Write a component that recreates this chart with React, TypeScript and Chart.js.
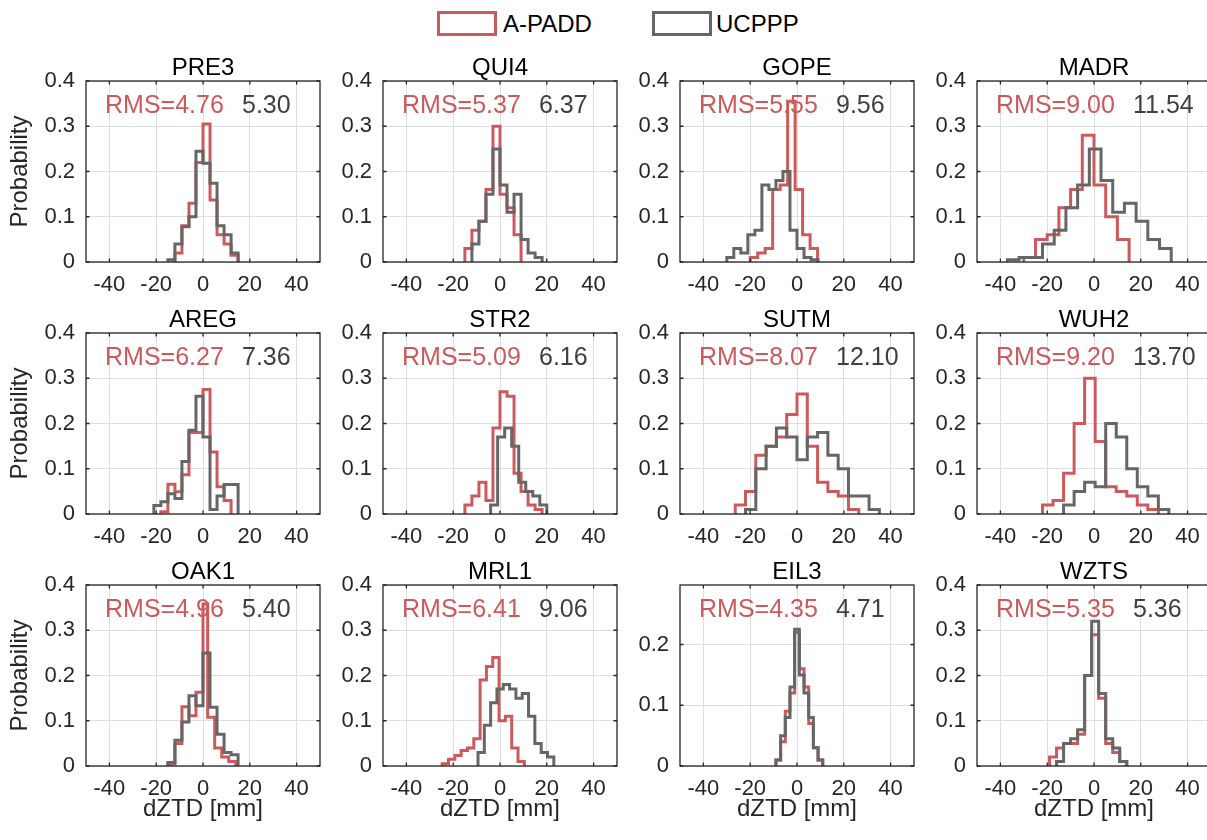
import React, { useEffect, useRef } from 'react';
import { Chart, registerables } from 'chart.js';

Chart.register(...registerables);

const FONT = "'Liberation Sans', Arial, Helvetica, sans-serif";
const RED = 'rgb(204, 90, 92)';
const GRAY = 'rgb(102, 102, 102)';
const TEXT_GRAY = 'rgb(64, 64, 64)';
const AXIS = '#262626';
const GRID = '#dedede';

const STATIONS = ['PRE3', 'QUI4', 'GOPE', 'MADR', 'AREG', 'STR2', 'SUTM', 'WUH2', 'OAK1', 'MRL1', 'EIL3', 'WZTS'];
const RMS_APADD = ['4.76', '5.37', '5.55', '9.00', '6.27', '5.09', '8.07', '9.20', '4.96', '6.41', '4.35', '5.35'];
const RMS_UCPPP = ['5.30', '6.37', '9.56', '11.54', '7.36', '6.16', '12.10', '13.70', '5.40', '9.06', '4.71', '5.36'];
const Y_MAX = [0.4, 0.4, 0.4, 0.4, 0.4, 0.4, 0.4, 0.4, 0.4, 0.4, 0.298, 0.4];
const X_TICKS = [-40, -20, 0, 20, 40];
const Y_TICKS = [0, 0.1, 0.2, 0.3, 0.4];
const Y_TICKS_SHORT = [0, 0.1, 0.2];

// bin edges [mm] and probabilities, A-PADD (A) and UCPPP (U)
const PRE3_A_EDGES = [-12, -9, -6, -3, 0, 3, 6, 9, 12, 15];
const PRE3_A_PROB = [0.02, 0.08, 0.13, 0.22, 0.305, 0.137, 0.06, 0.04, 0.015];
const PRE3_U_EDGES = [-15, -12, -9, -6, -3, 0, 3, 6, 9, 12, 15];
const PRE3_U_PROB = [0.005, 0.04, 0.078, 0.1, 0.245, 0.218, 0.174, 0.08, 0.06, 0.02];

const QUI4_A_EDGES = [-15, -12, -9, -6, -3, 0, 3, 6, 9];
const QUI4_A_PROB = [0.03, 0.07, 0.09, 0.16, 0.3, 0.15, 0.12, 0.06];
const QUI4_U_EDGES = [-12, -9, -6, -3, 0, 3, 6, 9, 12, 15, 18];
const QUI4_U_PROB = [0.04, 0.09, 0.15, 0.25, 0.17, 0.11, 0.15, 0.05, 0.02, 0.01];

const GOPE_A_EDGES = [-20, -16.8, -13.6, -10.4, -7.2, -4, -0.8, 2.4, 5.6, 8.8];
const GOPE_A_PROB = [0.01, 0.02, 0.03, 0.16, 0.17, 0.355, 0.16, 0.06, 0.03];
const GOPE_U_EDGES = [-30, -27, -24, -21, -18, -15, -12, -9, -6, -3, 0, 3, 6, 9];
const GOPE_U_PROB = [0.01, 0.03, 0.02, 0.06, 0.07, 0.17, 0.16, 0.18, 0.2, 0.07, 0.03, 0.01, 0.005];

const MADR_A_EDGES = [-30, -25, -20, -15, -10, -5, 0, 5, 10, 15];
const MADR_A_PROB = [0.01, 0.05, 0.06, 0.12, 0.16, 0.28, 0.17, 0.1, 0.05];
const MADR_U_EDGES = [-37, -32, -27, -22, -17, -12, -7, -2, 3, 8, 13, 18, 23, 28, 33];
const MADR_U_PROB = [0.005, 0.01, 0.01, 0.04, 0.07, 0.12, 0.17, 0.25, 0.18, 0.11, 0.13, 0.09, 0.05, 0.03];

const AREG_A_EDGES = [-18, -15, -12, -9, -6, -3, 0, 3, 6, 9, 12];
const AREG_A_PROB = [0.005, 0.066, 0.049, 0.087, 0.18, 0.18, 0.275, 0.137, 0.06, 0.03];
const AREG_U_EDGES = [-21, -18, -15, -12, -9, -6, -3, 0, 3, 6, 9, 12, 15];
const AREG_U_PROB = [0.019, 0.027, 0.045, 0.034, 0.116, 0.185, 0.26, 0.17, 0.01, 0.04, 0.065, 0.065];

const STR2_A_EDGES = [-15, -12, -9, -6, -3, 0, 3, 6, 9, 12, 15, 18];
const STR2_A_PROB = [0.02, 0.04, 0.07, 0.03, 0.19, 0.27, 0.26, 0.09, 0.05, 0.02, 0.01];
const STR2_U_EDGES = [-4, -1, 2, 5, 8, 11, 14, 17, 20];
const STR2_U_PROB = [0.02, 0.17, 0.19, 0.15, 0.07, 0.05, 0.04, 0.02];

const SUTM_A_EDGES = [-26.4, -22, -17.6, -13.2, -8.8, -4.4, 0, 4.4, 8.8, 13.2, 17.6, 22, 26.4];
const SUTM_A_PROB = [0.02, 0.05, 0.13, 0.15, 0.17, 0.22, 0.265, 0.15, 0.07, 0.05, 0.04, 0.01];
const SUTM_U_EDGES = [-22, -17.6, -13.2, -8.8, -4.4, 0, 4.4, 8.8, 13.2, 17.6, 22, 26.4, 30.8, 35.2];
const SUTM_U_PROB = [0.01, 0.1, 0.15, 0.19, 0.17, 0.12, 0.17, 0.18, 0.13, 0.1, 0.04, 0.04, 0.01];

const WUH2_A_EDGES = [-22, -17.5, -13, -8.5, -4, 0.5, 5, 9.5, 14, 18.5, 23, 27.5];
const WUH2_A_PROB = [0.02, 0.03, 0.09, 0.2, 0.3, 0.16, 0.06, 0.05, 0.04, 0.02, 0.01];
const WUH2_U_EDGES = [-13, -8.5, -4, 0.5, 5, 9.5, 14, 18.5, 23, 27.5, 32];
const WUH2_U_PROB = [0.02, 0.05, 0.07, 0.06, 0.2, 0.17, 0.1, 0.06, 0.04, 0.01];

const OAK1_A_EDGES = [-15, -12, -9, -6, -3, 0, 2, 5, 8, 11, 14];
const OAK1_A_PROB = [0.004, 0.05, 0.131, 0.111, 0.163, 0.358, 0.108, 0.04, 0.02, 0.01];
const OAK1_U_EDGES = [-15, -12, -9, -6, -3, 0, 3, 6, 9, 12, 15];
const OAK1_U_PROB = [0.008, 0.057, 0.097, 0.155, 0.133, 0.25, 0.13, 0.07, 0.03, 0.025];

const MRL1_A_EDGES = [-24.7, -22, -19.3, -16.6, -13.9, -11.2, -8.5, -5.8, -3.1, -0.4, 2.3, 5, 7.7, 10.4];
const MRL1_A_PROB = [0.005, 0.015, 0.023, 0.034, 0.04, 0.06, 0.19, 0.22, 0.24, 0.1, 0.11, 0.04, 0.01];
const MRL1_U_EDGES = [-9.4, -6.7, -4, -1.3, 1.4, 4.1, 6.8, 9.5, 12.2, 14.9, 17.6, 20.3, 23];
const MRL1_U_PROB = [0.03, 0.09, 0.14, 0.17, 0.18, 0.17, 0.15, 0.16, 0.11, 0.05, 0.03, 0.02];

const EIL3_A_EDGES = [-9, -7, -5, -3, -1, 1, 3, 5, 7, 9, 11];
const EIL3_A_PROB = [0.01, 0.04, 0.09, 0.12, 0.22, 0.16, 0.13, 0.07, 0.03, 0.01];
const EIL3_U_EDGES = [-9, -7, -5, -3, -1, 1, 3, 5, 7, 9, 11];
const EIL3_U_PROB = [0.01, 0.05, 0.08, 0.13, 0.225, 0.15, 0.12, 0.08, 0.03, 0.01];

const WZTS_A_EDGES = [-19, -16, -13, -10, -7, -4, -1, 2, 5, 8, 11, 14];
const WZTS_A_PROB = [0.02, 0.04, 0.05, 0.05, 0.07, 0.2, 0.29, 0.15, 0.05, 0.03, 0.01];
const WZTS_U_EDGES = [-16, -13, -10, -7, -4, -1, 2, 5, 8, 11, 14];
const WZTS_U_PROB = [0.01, 0.05, 0.06, 0.08, 0.2, 0.32, 0.16, 0.06, 0.04, 0.01];

const A_EDGES = [PRE3_A_EDGES, QUI4_A_EDGES, GOPE_A_EDGES, MADR_A_EDGES, AREG_A_EDGES, STR2_A_EDGES, SUTM_A_EDGES, WUH2_A_EDGES, OAK1_A_EDGES, MRL1_A_EDGES, EIL3_A_EDGES, WZTS_A_EDGES];
const A_PROB = [PRE3_A_PROB, QUI4_A_PROB, GOPE_A_PROB, MADR_A_PROB, AREG_A_PROB, STR2_A_PROB, SUTM_A_PROB, WUH2_A_PROB, OAK1_A_PROB, MRL1_A_PROB, EIL3_A_PROB, WZTS_A_PROB];
const U_EDGES = [PRE3_U_EDGES, QUI4_U_EDGES, GOPE_U_EDGES, MADR_U_EDGES, AREG_U_EDGES, STR2_U_EDGES, SUTM_U_EDGES, WUH2_U_EDGES, OAK1_U_EDGES, MRL1_U_EDGES, EIL3_U_EDGES, WZTS_U_EDGES];
const U_PROB = [PRE3_U_PROB, QUI4_U_PROB, GOPE_U_PROB, MADR_U_PROB, AREG_U_PROB, STR2_U_PROB, SUTM_U_PROB, WUH2_U_PROB, OAK1_U_PROB, MRL1_U_PROB, EIL3_U_PROB, WZTS_U_PROB];

// layout (pixels)
const COL_PITCH = 297;
const ROW_PITCH = 252;
const FIRST_LEFT = 86;
const FIRST_TOP = 81;
const AXES_W = 234;
const AXES_H = 181;
const PAD_TOP = 40;
const Y_AXIS_W = 86;
const X_AXIS_H = 60;
const CANVAS_W = Y_AXIS_W + AXES_W + 4;
const CANVAS_H = PAD_TOP + AXES_H + X_AXIS_H;

function stairs(edges: number[], probs: number[]) {
  const pts: { x: number; y: number }[] = [{ x: edges[0], y: 0 }];
  for (let i = 0; i < probs.length; i++) pts.push({ x: edges[i], y: probs[i] });
  pts.push({ x: edges[edges.length - 1], y: 0 });
  return pts;
}

function Subplot({ idx }: { idx: number }) {
  const ref = useRef<HTMLCanvasElement | null>(null);
  const col = idx % 4;
  const row = Math.floor(idx / 4);
  const axesLeft = FIRST_LEFT + COL_PITCH * col;
  const axesTop = FIRST_TOP + ROW_PITCH * row;

  useEffect(() => {
    if (!ref.current) return;
    const yTicks = Y_MAX[idx] < 0.3 ? Y_TICKS_SHORT : Y_TICKS;
    const decor = {
      id: 'decor' + idx,
      beforeDatasetsDraw(chart: any) {
        const { ctx, chartArea } = chart;
        ctx.save();
        ctx.textBaseline = 'alphabetic';
        ctx.fillStyle = '#000';
        ctx.font = `24px ${FONT}`;
        ctx.textAlign = 'center';
        ctx.fillText(STATIONS[idx], (chartArea.left + chartArea.right) / 2, chartArea.top - 6);
        ctx.font = `25px ${FONT}`;
        ctx.textAlign = 'left';
        ctx.fillStyle = RED;
        ctx.fillText('RMS=' + RMS_APADD[idx], chartArea.left + 19, chartArea.top + 32);
        ctx.fillStyle = TEXT_GRAY;
        ctx.fillText(RMS_UCPPP[idx], chartArea.left + 156, chartArea.top + 32);
        ctx.restore();
      },
      afterDatasetsDraw(chart: any) {
        const { ctx, chartArea, scales } = chart;
        const { left, right, top, bottom } = chartArea;
        ctx.save();
        ctx.strokeStyle = AXIS;
        ctx.lineWidth = 1.3;
        ctx.strokeRect(left, top, right - left, bottom - top);
        const tl = 3.5;
        ctx.beginPath();
        X_TICKS.forEach((v) => {
          const x = scales.x.getPixelForValue(v);
          ctx.moveTo(x, bottom);
          ctx.lineTo(x, bottom - tl);
          ctx.moveTo(x, top);
          ctx.lineTo(x, top + tl);
        });
        yTicks.forEach((v) => {
          const y = scales.y.getPixelForValue(v);
          ctx.moveTo(left, y);
          ctx.lineTo(left + tl, y);
          ctx.moveTo(right, y);
          ctx.lineTo(right - tl, y);
        });
        ctx.stroke();
        ctx.restore();
      },
    };

    const chart = new Chart(ref.current, {
      type: 'scatter',
      data: {
        datasets: [
          {
            label: 'A-PADD',
            data: stairs(A_EDGES[idx], A_PROB[idx]),
            borderColor: RED,
            backgroundColor: RED,
            borderWidth: 3,
            showLine: true,
            stepped: true,
            pointRadius: 0,
            fill: false,
            order: 2,
            borderJoinStyle: 'miter',
          } as any,
          {
            label: 'UCPPP',
            data: stairs(U_EDGES[idx], U_PROB[idx]),
            borderColor: GRAY,
            backgroundColor: GRAY,
            borderWidth: 3,
            showLine: true,
            stepped: true,
            pointRadius: 0,
            fill: false,
            order: 1,
            borderJoinStyle: 'miter',
          } as any,
        ],
      },
      options: {
        responsive: false,
        animation: false,
        events: [],
        layout: { padding: { top: PAD_TOP, left: 0, right: CANVAS_W - Y_AXIS_W - AXES_W, bottom: 0 } },
        plugins: {
          legend: { display: false },
          tooltip: { enabled: false },
          title: { display: false },
        },
        scales: {
          x: {
            type: 'linear',
            min: -50,
            max: 50,
            afterBuildTicks: (s: any) => {
              s.ticks = X_TICKS.map((v) => ({ value: v }));
            },
            afterFit: (s: any) => {
              s.height = X_AXIS_H;
            },
            grid: { color: GRID, lineWidth: 1, drawTicks: false },
            border: { display: false },
            ticks: {
              color: AXIS,
              font: { family: FONT, size: 22 },
              padding: 10,
              maxRotation: 0,
              autoSkip: false,
            },
            title: {
              display: row === 2,
              text: 'dZTD [mm]',
              color: AXIS,
              font: { family: FONT, size: 24 },
              padding: { top: 0, bottom: 2 },
            },
          },
          y: {
            type: 'linear',
            min: 0,
            max: Y_MAX[idx],
            afterBuildTicks: (s: any) => {
              s.ticks = yTicks.map((v) => ({ value: v }));
            },
            afterFit: (s: any) => {
              s.width = Y_AXIS_W;
            },
            grid: { color: GRID, lineWidth: 1, drawTicks: false },
            border: { display: false },
            ticks: {
              color: AXIS,
              font: { family: FONT, size: 22 },
              padding: 11,
              autoSkip: false,
            },
            title: {
              display: col === 0,
              text: 'Probability',
              color: AXIS,
              font: { family: FONT, size: 24 },
              padding: { top: 6, bottom: 0 },
            },
          },
        },
      } as any,
      plugins: [decor],
    });
    return () => chart.destroy();
  }, [idx]);

  return (
    <canvas
      ref={ref}
      width={CANVAS_W}
      height={CANVAS_H}
      style={{
        position: 'absolute',
        left: axesLeft - Y_AXIS_W,
        top: axesTop - PAD_TOP,
        width: CANVAS_W,
        height: CANVAS_H,
      }}
    />
  );
}

export default function App() {
  return (
    <div style={{ position: 'relative', width: 1207, height: 840, overflow: 'hidden', background: '#fff' }}>
      <style>{'body{margin:0}'}</style>
      <div style={{ position: 'absolute', left: 437, top: 11, width: 54, height: 19, border: `3px solid ${RED}` }} />
      <div style={{ position: 'absolute', left: 503, top: 9, font: `24px ${FONT}`, lineHeight: '30px', color: '#000' }}>A-PADD</div>
      <div style={{ position: 'absolute', left: 652, top: 11, width: 54, height: 19, border: `3px solid ${GRAY}` }} />
      <div style={{ position: 'absolute', left: 716, top: 9, font: `24px ${FONT}`, lineHeight: '30px', color: '#000' }}>UCPPP</div>
      {STATIONS.map((s, i) => (
        <Subplot key={s} idx={i} />
      ))}
    </div>
  );
}
